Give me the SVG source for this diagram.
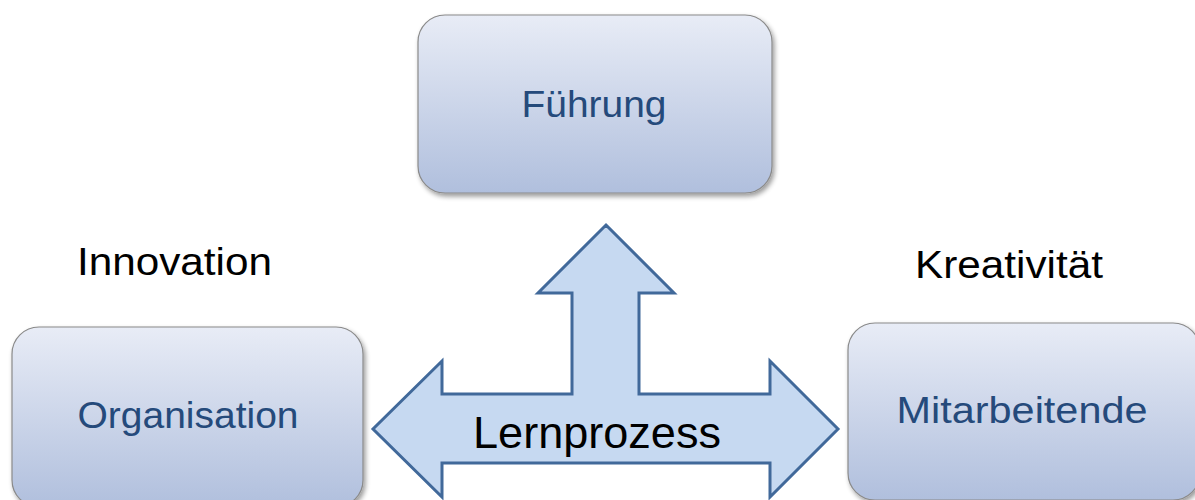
<svg xmlns="http://www.w3.org/2000/svg" width="1195" height="500" viewBox="0 0 1195 500">
<defs>
<linearGradient id="boxGrad" x1="0" y1="0" x2="0" y2="1">
<stop offset="0" stop-color="#e8ecf6"/>
<stop offset="1" stop-color="#b0bfdd"/>
</linearGradient>
<filter id="shadow" x="-10%" y="-10%" width="125%" height="130%">
<feGaussianBlur in="SourceAlpha" stdDeviation="2.5"/>
<feOffset dx="2" dy="3" result="b"/>
<feComponentTransfer><feFuncA type="linear" slope="0.4"/></feComponentTransfer>
<feMerge><feMergeNode/><feMergeNode in="SourceGraphic"/></feMerge>
</filter>
</defs>
<style>
.box { fill: url(#boxGrad); stroke: #8a8a8a; stroke-width: 1.2; filter: url(#shadow); }
.lbl { font-family: "Liberation Sans", Arial, sans-serif; font-size: 37px; fill: #254a7b; text-anchor: middle; }
.free { font-family: "Liberation Sans", Arial, sans-serif; font-size: 38px; fill: #000; }
.arrow { fill: #c6d9f1; stroke: #41699a; stroke-width: 3; stroke-linejoin: miter; }
.arrowlbl { font-family: "Liberation Sans", Arial, sans-serif; font-size: 44px; fill: #000; }
</style>
<rect width="1195" height="500" fill="#ffffff"/>
<g id="connectors">
<path class="arrow" d="M606,225 L674,293 L639,293 L639,394 L770,394 L770,361 L838,429 L770,497 L770,463 L442,463 L442,497 L373,429 L442,361 L442,394 L572,394 L572,293 L538,293 Z"/>
<text class="arrowlbl" x="473" y="448" textLength="248" lengthAdjust="spacingAndGlyphs">Lernprozess</text>
</g>
<g id="node-fuehrung">
<rect class="box" x="418" y="15" width="354" height="178" rx="27"/>
<text class="lbl" x="594" y="117" textLength="145" lengthAdjust="spacingAndGlyphs">Führung</text>
</g>
<g id="node-organisation">
<rect class="box" x="12" y="327" width="351" height="180" rx="27"/>
<text class="lbl" x="188" y="428" textLength="221" lengthAdjust="spacingAndGlyphs">Organisation</text>
</g>
<g id="node-mitarbeitende">
<rect class="box" x="848" y="323" width="352" height="177" rx="27"/>
<text class="lbl" x="1022" y="423" textLength="251" lengthAdjust="spacingAndGlyphs">Mitarbeitende</text>
</g>
<g id="label-innovation">
<text class="free" x="77" y="275" textLength="195" lengthAdjust="spacingAndGlyphs">Innovation</text>
</g>
<g id="label-kreativitaet">
<text class="free" x="915" y="278" textLength="188" lengthAdjust="spacingAndGlyphs">Kreativität</text>
</g>
</svg>
